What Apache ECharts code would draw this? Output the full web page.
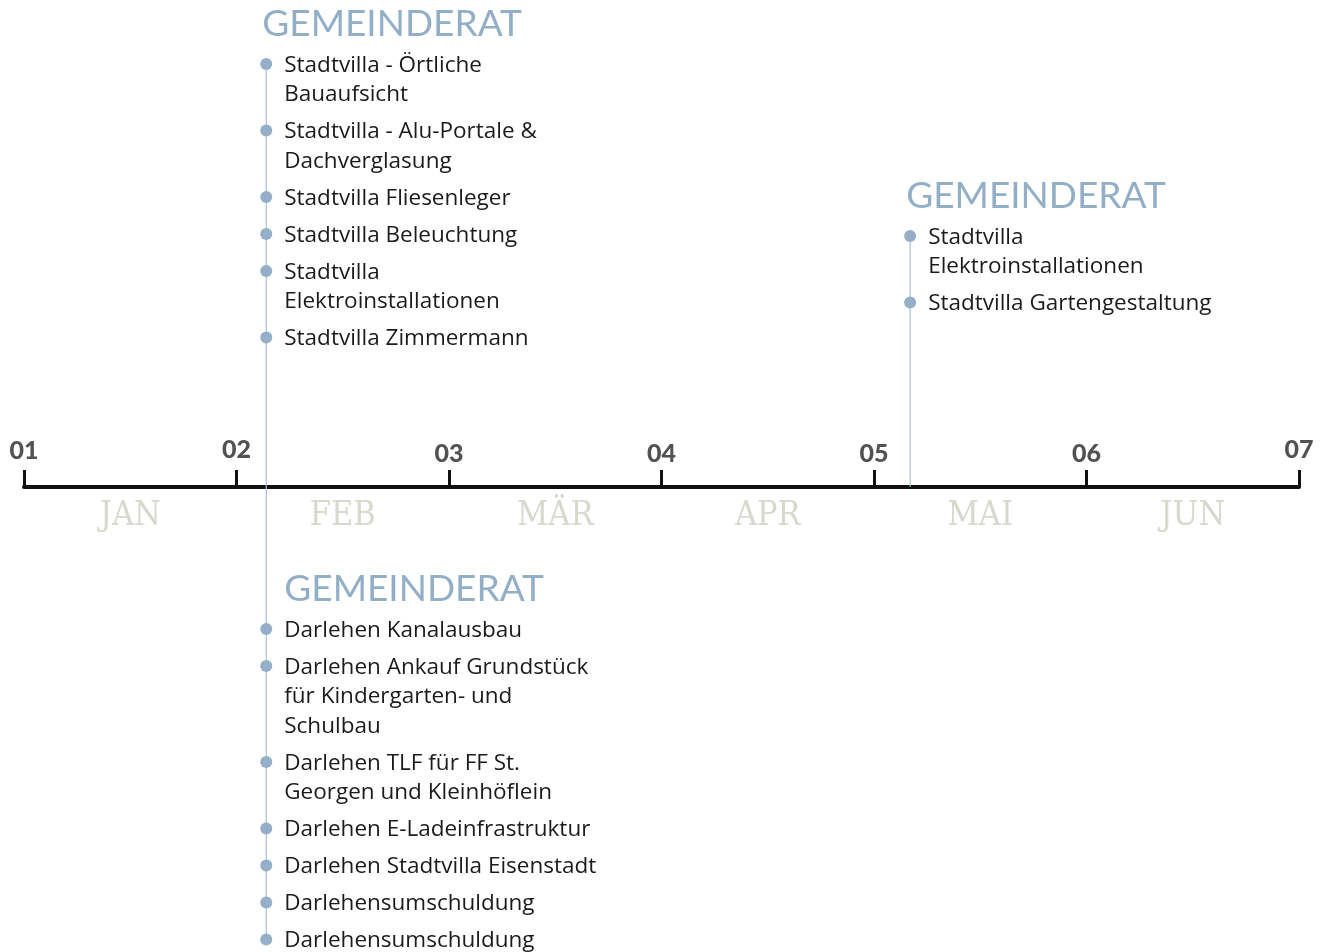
<!DOCTYPE html>
<html>
<head>
<meta charset="utf-8">
<script src="https://cdn.jsdelivr.net/npm/echarts@6/dist/echarts.min.js"></script>
<style>
  html, body { margin: 0; padding: 0; background: #fff; }
  #main { width: 1330px; height: 952px; }
</style>
</head>
<body>
<div id="main"></div>
<script>
// axis: months counted from 1 January (0 = 01, 6 = 07)
const TICK_LABELS = ['01', '02', '03', '04', '05', '06', '07'];
const MONTHS = ['JAN', 'FEB', 'MÄR', 'APR', 'MAI', 'JUN'];

// events: position on the month axis, side of the axis, title, list items
const EVENT_POS = [1.14, 1.14, 4.17];   // ~5. Feb, ~5. Feb, ~6. Mai
const EVENT_SIDE = ['above', 'below', 'above'];
const EVENT_TITLES = ['GEMEINDERAT', 'GEMEINDERAT', 'GEMEINDERAT'];
const EVENT_ITEMS = [
  [
    'Stadtvilla - Örtliche\nBauaufsicht',
    'Stadtvilla - Alu-Portale &\nDachverglasung',
    'Stadtvilla Fliesenleger',
    'Stadtvilla Beleuchtung',
    'Stadtvilla\nElektroinstallationen',
    'Stadtvilla Zimmermann'
  ],
  [
    'Darlehen Kanalausbau',
    'Darlehen Ankauf Grundstück\nfür Kindergarten- und\nSchulbau',
    'Darlehen TLF für FF St.\nGeorgen und Kleinhöflein',
    'Darlehen E-Ladeinfrastruktur',
    'Darlehen Stadtvilla Eisenstadt',
    'Darlehensumschuldung',
    'Darlehensumschuldung'
  ],
  [
    'Stadtvilla\nElektroinstallationen',
    'Stadtvilla Gartengestaltung'
  ]
];

// layout (pixels)
const TITLE_Y = [23, 588, 195];
const TICK_RAISE = [3, 4, 0, 0, 0, 0, 4];
const LINE_H = 29.5;
const ITEM_GAP = 7.5;
const TEXT_FONT = '22.5px "Open Sans", "Noto Sans", sans-serif';
const TITLE_FONT = '37px Lato, "Noto Sans", sans-serif';
const BLUE = '#94afc7';

const chart = echarts.init(document.getElementById('main'));

function renderEvent(params, api) {
  const i = params.dataIndex;
  const pt = api.coord([api.value(0), 0]);
  const x = pt[0];
  const axisY = pt[1];
  const side = EVENT_SIDE[i];
  const titleY = TITLE_Y[i];
  const children = [];

  let y = titleY + 41;
  const bullets = [];
  EVENT_ITEMS[i].forEach(function (txt) {
    const lines = txt.split('\n').length;
    bullets.push(y);
    children.push({
      type: 'text',
      style: {
        text: txt, x: x + 18, y: y - LINE_H / 2 + 1.5,
        verticalAlign: 'top', lineHeight: LINE_H,
        font: TEXT_FONT, fill: '#1b1b1b'
      }
    });
    y += lines * LINE_H + ITEM_GAP;
  });

  const y1 = side === 'above' ? bullets[0] : axisY;
  const y2 = side === 'above' ? axisY : bullets[bullets.length - 1];
  children.unshift({
    type: 'line',
    shape: { x1: x, y1: y1, x2: x, y2: y2 },
    style: { stroke: '#a9c0d6', lineWidth: 1.2 }
  });
  bullets.forEach(function (by) {
    children.push({
      type: 'circle',
      shape: { cx: x, cy: by, r: 6 },
      style: { fill: BLUE }
    });
  });
  children.push({
    type: 'text',
    style: {
      text: EVENT_TITLES[i], x: side === 'above' ? x - 4 : x + 18, y: titleY + 1,
      verticalAlign: 'middle', font: TITLE_FONT, fill: '#93afc7'
    }
  });
  return { type: 'group', children: children };
}

const tickRich = {};
TICK_RAISE.forEach(function (r, k) {
  tickRich['t' + k] = { padding: [0, 0, r, 0] };
});

chart.setOption({
  animation: false,
  grid: { left: 24, right: 31, top: 0, height: 487 },
  xAxis: [
    {
      type: 'value', min: 0, max: 6, interval: 1, position: 'bottom',
      axisLine: { lineStyle: { color: '#111', width: 4 } },
      axisTick: { inside: true, length: 17, lineStyle: { color: '#111', width: 3 } },
      splitLine: { show: false },
      axisLabel: {
        inside: true, margin: 21, showMinLabel: true, showMaxLabel: true,
        color: '#525252', fontSize: 25, fontWeight: 900, fontFamily: 'Lato',
        rich: tickRich,
        formatter: function (v) {
          const k = Math.round(v);
          return '{t' + k + '|' + TICK_LABELS[k] + '}';
        }
      }
    },
    {
      type: 'category', data: MONTHS, position: 'bottom', boundaryGap: true,
      axisLine: { show: false }, axisTick: { show: false },
      axisLabel: {
        margin: 12, color: '#d6d9cc', fontSize: 34,
        fontFamily: '"DejaVu Serif Condensed", "DejaVu Serif", serif'
      }
    }
  ],
  yAxis: { type: 'value', min: 0, max: 1, show: false },
  series: [{
    type: 'custom',
    clip: false,
    renderItem: renderEvent,
    data: EVENT_POS.map(function (p) { return [p, 0]; }),
    silent: true
  }]
});
</script>
</body>
</html>
